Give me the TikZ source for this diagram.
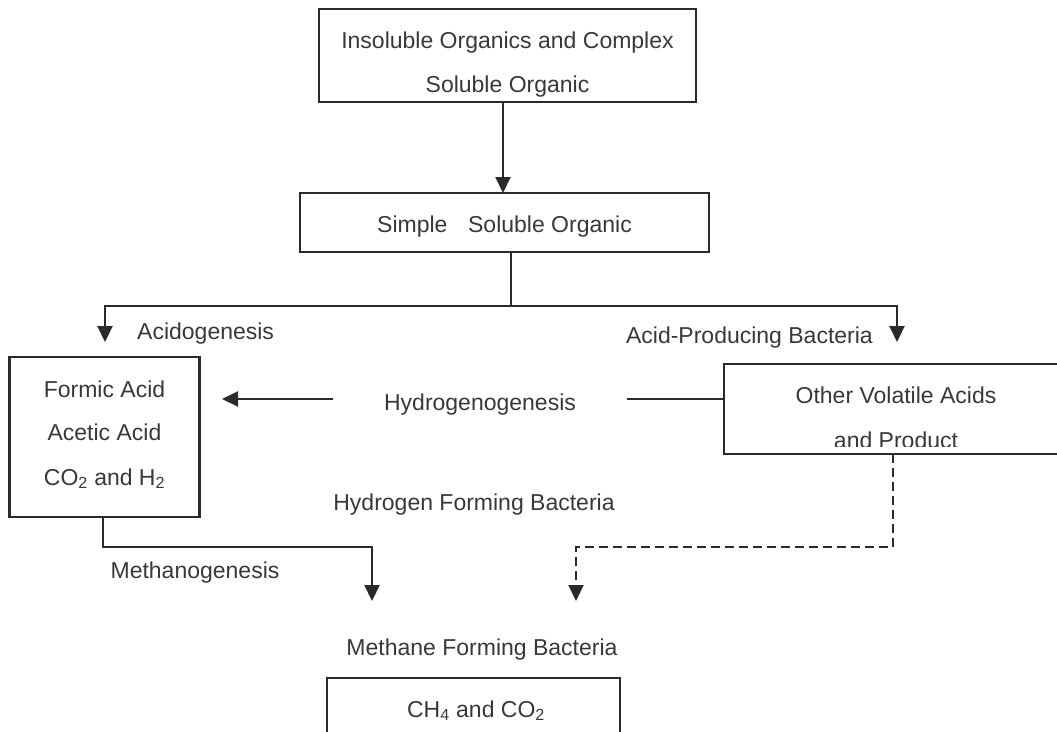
\documentclass[tikz,border=0pt]{standalone}
\usepackage{fontspec}
\setmainfont{Liberation Sans}
\usetikzlibrary{arrows.meta}
\definecolor{ink}{HTML}{2A2A2A}
\definecolor{txtc}{HTML}{383838}
\begin{document}
\begin{tikzpicture}[x=1pt,y=-1pt,
  box/.style={draw=ink, line width=2.1pt, inner sep=0pt, outer sep=0pt},
  txt/.style={text=txtc, font=\fontsize{23}{27}\selectfont, anchor=base, inner sep=0pt},
  conn/.style={draw=ink, line width=2.1pt},
  arr/.style={conn, -{Triangle[width=15pt,length=16pt]}},
  dsh/.style={conn, dash pattern=on 9pt off 5pt}]
\useasboundingbox (0,0) rectangle (1057,731);
\clip (0,0) rectangle (1057,731);

% boxes
\node[box, minimum width=377pt, minimum height=93pt] (top) at (507.5,55.5) {};
\node[box, minimum width=409pt, minimum height=59pt] (mid) at (504.5,222.5) {};
\node[box, minimum width=190pt, minimum height=160pt] (lbox) at (104.5,437) {};
\node[box, minimum width=346pt, minimum height=90pt] (rbox) at (897,409) {};
\node[box, minimum width=293pt, minimum height=120pt] (bbox) at (473.5,738) {};

% box texts
\node[txt] (t1) at (507.5,48) {Insoluble Organics and Complex};
\node[txt] (t2) at (507.5,92) {Soluble Organic};
\node[txt] (m1) at (504.5,232) {Simple\hspace{0.9em}Soluble Organic};
\node[txt] (l1) at (104.5,397) {Formic Acid};
\node[txt] (l2) at (104.5,440) {Acetic Acid};
\node[txt] (l3) at (104.5,485) {CO\textsubscript{2} and H\textsubscript{2}};
\node[txt] (r1) at (896,403) {Other Volatile Acids};
\begin{scope}
  \clip (724,420) rectangle (1057,446);
  \node[txt] (r2) at (896,448) {and Product};
\end{scope}
\node[txt] (b1) at (476,717) {CH\textsubscript{4} and CO\textsubscript{2}};

% labels
\node[txt, anchor=base west] (acido) at (137,339) {Acidogenesis};
\node[txt, anchor=base east] (apb) at (873,343) {Acid-Producing Bacteria};
\node[txt] (hydro) at (480,410) {Hydrogenogenesis};
\node[txt] (hfb) at (474,510) {Hydrogen Forming Bacteria};
\node[txt] (metgen) at (195,578) {Methanogenesis};
\node[txt] (mfb) at (482,655) {Methane Forming Bacteria};

% connector points
\coordinate (tx) at (503,150);
\coordinate (split) at (511,306);
\coordinate (la) at (105,342);
\coordinate (ra) at (897,342);
\coordinate (hl) at (333,399);
\coordinate (hlt) at (222,399);
\coordinate (hr) at (627,399);
\coordinate (mc) at (103,547);
\coordinate (ma) at (372,601);
\coordinate (dc) at (893,547);
\coordinate (dm) at (576,585);
\coordinate (da) at (576,601);

% connectors
\draw[arr] (top.south -| tx) -- (mid.north -| tx);
\draw[conn] (mid.south -| split) -- (split);
\draw[arr] (split) -| (la);
\draw[arr] (split) -| (ra);
\draw[arr] (hl) -- (hlt);
\draw[conn] (hr) -- (rbox.west |- hr);
\draw[arr] (lbox.south -| mc) -- (mc) -| (ma);
\draw[dsh] (rbox.south -| dc) -- (dc) -| (dm);
\draw[arr] (dm) -- (da);
\end{tikzpicture}
\end{document}
